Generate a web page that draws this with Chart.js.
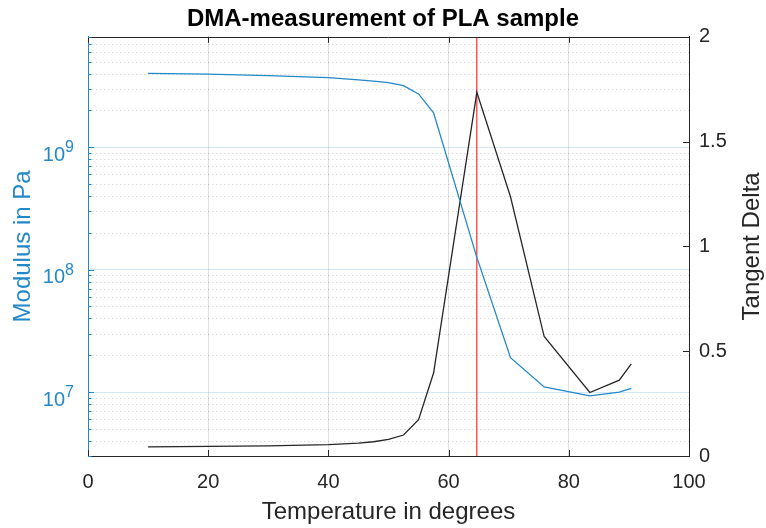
<!DOCTYPE html>
<html>
<head>
<meta charset="utf-8">
<script src="https://cdn.jsdelivr.net/npm/chart.js@4.4.1/dist/chart.umd.min.js"></script>
<style>
  body { margin: 0; background: #fff; }
</style>
</head>
<body>
<canvas id="dmaChart" width="766" height="528"></canvas>
<script>
// values
const temperature = [10, 20, 30, 40, 45, 47.5, 50, 52.5, 55, 57.5, 64.7, 70.3, 75.9, 83.5, 88.4, 90.4];
const modulus = [4.02e9, 3.97e9, 3.86e9, 3.71e9, 3.56e9, 3.48e9, 3.38e9, 3.19e9, 2.73e9, 1.91e9, 1.26e8, 1.91e7, 1.1e7, 9.3e6, 1.0e7, 1.07e7];
const tanDelta = [0.044, 0.046, 0.048, 0.054, 0.061, 0.068, 0.079, 0.100, 0.173, 0.396, 1.735, 1.237, 0.570, 0.303, 0.362, 0.440];
const peakTemperature = 64.7;
const temperatureRange = [0, 100];
const modulusRange = [3e6, 8e9];
const tanDeltaRange = [0, 2];

const BLUE = "#2388c8";
const DARK = "#262626";
const FONT = "'Liberation Sans', Arial, Helvetica, sans-serif";

const isDecade = (v) => {
    const l = Math.log10(v);
    return Math.abs(l - Math.round(l)) < 1e-6;
};

// matlab style extras: inward ticks, dotted minor grid, 10^n labels, right label
const matlabAxes = {
    id: "matlabAxes",
    beforeDatasetsDraw(chart) {
        const {ctx, chartArea} = chart;
        const ys = chart.scales.y;
        ctx.save();
        ctx.strokeStyle = "rgba(38,38,38,0.16)";
        ctx.lineWidth = 1;
        ctx.setLineDash([1.5, 2.5]);
        const e0 = Math.floor(Math.log10(modulusRange[0]));
        const e1 = Math.ceil(Math.log10(modulusRange[1]));
        for (let e = e0; e < e1; e++) {
            for (let m = 2; m <= 9; m++) {
                const v = m * Math.pow(10, e);
                if (v <= modulusRange[0] || v >= modulusRange[1]) continue;
                const py = Math.round(ys.getPixelForValue(v)) + 0.5;
                ctx.beginPath();
                ctx.moveTo(chartArea.left, py);
                ctx.lineTo(chartArea.right, py);
                ctx.stroke();
            }
        }
        ctx.restore();
    },
    afterDraw(chart) {
        const {ctx, chartArea} = chart;
        const {left, right, top, bottom} = chartArea;
        const xs = chart.scales.x, ys = chart.scales.y, y1 = chart.scales.y1;
        ctx.save();
        ctx.lineWidth = 1;

        // top edge of the box
        ctx.strokeStyle = DARK;
        ctx.beginPath();
        ctx.moveTo(left, Math.round(top) + 0.5);
        ctx.lineTo(right, Math.round(top) + 0.5);
        ctx.stroke();

        // x ticks, bottom and top
        xs.ticks.forEach(t => {
            const px = Math.round(xs.getPixelForValue(t.value)) + 0.5;
            ctx.beginPath();
            ctx.moveTo(px, bottom); ctx.lineTo(px, bottom - 6);
            ctx.moveTo(px, top); ctx.lineTo(px, top + 6);
            ctx.stroke();
        });

        // right ticks
        y1.ticks.forEach(t => {
            const py = Math.round(y1.getPixelForValue(t.value)) + 0.5;
            ctx.beginPath();
            ctx.moveTo(right, py); ctx.lineTo(right - 6, py);
            ctx.stroke();
        });

        // left ticks, major and minor
        ctx.strokeStyle = BLUE;
        const e0 = Math.floor(Math.log10(modulusRange[0]));
        const e1 = Math.ceil(Math.log10(modulusRange[1]));
        for (let e = e0; e < e1; e++) {
            for (let m = 1; m <= 9; m++) {
                const v = m * Math.pow(10, e);
                if (v < modulusRange[0] || v > modulusRange[1]) continue;
                const py = Math.round(ys.getPixelForValue(v)) + 0.5;
                ctx.beginPath();
                ctx.moveTo(left, py);
                ctx.lineTo(left + (m === 1 ? 6 : 3.5), py);
                ctx.stroke();
            }
        }

        // left tick labels as 10^n
        ctx.fillStyle = BLUE;
        ctx.textAlign = "right";
        ctx.textBaseline = "alphabetic";
        for (let e = Math.ceil(Math.log10(modulusRange[0])); e <= Math.floor(Math.log10(modulusRange[1])); e++) {
            const py = ys.getPixelForValue(Math.pow(10, e));
            ctx.font = "16px " + FONT;
            const exp = String(e);
            const w = ctx.measureText(exp).width;
            ctx.fillText(exp, 74, py + 5);
            ctx.font = "20px " + FONT;
            ctx.fillText("10", 74 - w, py + 13.5);
        }

        // right axis title, reading upwards
        ctx.fillStyle = DARK;
        ctx.font = "24px " + FONT;
        ctx.textAlign = "center";
        ctx.textBaseline = "middle";
        ctx.translate(752, (top + bottom) / 2);
        ctx.rotate(-Math.PI / 2);
        ctx.fillText("Tangent Delta", 0, 0);
        ctx.restore();
    }
};

const canvasElement = document.getElementById("dmaChart");

const dmaChart = new Chart(canvasElement, {
    type: "line",
    data: {
        datasets: [
            {
                label: "Modulus",
                data: temperature.map((t, i) => ({x: t, y: modulus[i]})),
                yAxisID: "y",
                borderColor: BLUE,
                borderWidth: 1.3,
                pointRadius: 0,
                tension: 0
            },
            {
                label: "Tangent Delta",
                data: temperature.map((t, i) => ({x: t, y: tanDelta[i]})),
                yAxisID: "y1",
                borderColor: DARK,
                borderWidth: 1.3,
                pointRadius: 0,
                tension: 0
            },
            {
                label: "Peak",
                data: tanDeltaRange.map(v => ({x: peakTemperature, y: v})),
                yAxisID: "y1",
                borderColor: "#ff0000",
                borderWidth: 1,
                pointRadius: 0
            }
        ]
    },
    options: {
        responsive: false,
        animation: false,
        devicePixelRatio: 1,
        layout: {padding: 0},
        plugins: {
            legend: {display: false},
            tooltip: {enabled: false},
            title: {
                display: true,
                text: "DMA-measurement of PLA sample",
                color: "#000",
                font: {family: FONT, size: 24, weight: "bold"},
                padding: {top: 5, bottom: 3}
            }
        },
        scales: {
            x: {
                type: "linear",
                min: temperatureRange[0],
                max: temperatureRange[1],
                ticks: {stepSize: 20, color: DARK, font: {family: FONT, size: 20}, padding: 14, maxRotation: 0},
                grid: {color: "rgba(38,38,38,0.14)", drawTicks: false},
                border: {color: DARK, width: 1},
                title: {display: true, text: "Temperature in degrees", color: DARK,
                        font: {family: FONT, size: 24}, padding: {top: 0, bottom: 1}},
                afterFit: (s) => { s.height = 72; }
            },
            y: {
                type: "logarithmic",
                position: "left",
                min: modulusRange[0],
                max: modulusRange[1],
                ticks: {display: false},
                grid: {
                    drawTicks: false,
                    color: (c) => (c.tick && isDecade(c.tick.value)) ? "rgba(35,136,200,0.2)" : "rgba(0,0,0,0)"
                },
                border: {color: BLUE, width: 1},
                title: {display: true, text: "Modulus in Pa", color: BLUE,
                        font: {family: FONT, size: 24}, padding: {top: 9, bottom: 0}},
                afterFit: (s) => { s.width = 88; }
            },
            y1: {
                type: "linear",
                position: "right",
                min: tanDeltaRange[0],
                max: tanDeltaRange[1],
                ticks: {stepSize: 0.5, color: DARK, font: {family: FONT, size: 20}, padding: 10,
                        callback: (v) => String(v)},
                grid: {drawOnChartArea: false, drawTicks: false},
                border: {color: DARK, width: 1},
                afterFit: (s) => { s.width = 77; }
            }
        }
    },
    plugins: [matlabAxes]
});
</script>
</body>
</html>
